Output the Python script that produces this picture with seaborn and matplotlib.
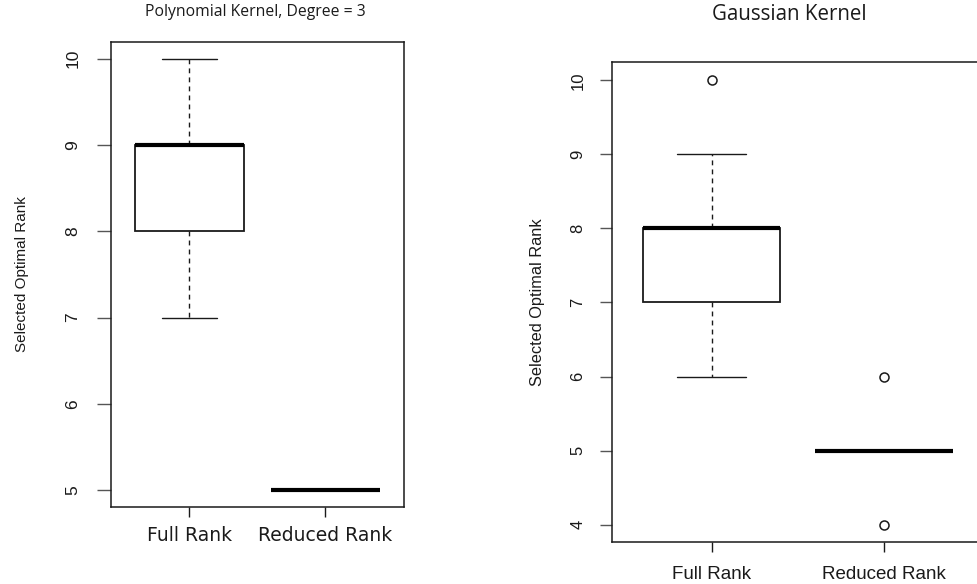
import numpy as np
import pandas as pd
import matplotlib
matplotlib.use("Agg")
import matplotlib.pyplot as plt
import seaborn as sns

# Selected optimal rank per run, for each kernel and rank-selection method
methods = ["Full Rank", "Reduced Rank"]
poly_full = [7, 8, 8, 9, 9, 9, 9, 10]
poly_reduced = [5, 5, 5, 5, 5, 5, 5, 5]
gauss_full = [6, 7, 7, 7, 8, 8, 8, 8, 8, 9, 10]
gauss_reduced = [4, 5, 5, 5, 5, 5, 5, 5, 5, 5, 6]

poly_ticks = [5, 6, 7, 8, 9, 10]
gauss_ticks = [4, 5, 6, 7, 8, 9, 10]

poly_title = "Polynomial Kernel, Degree = 3"
gauss_title = "Gaussian Kernel"
ylabel = "Selected Optimal Rank"


def long_form(full, reduced):
    return pd.DataFrame({
        "method": [methods[0]] * len(full) + [methods[1]] * len(reduced),
        "rank": list(full) + list(reduced),
    })


sns.set_style("white")
plt.rcParams["font.family"] = ["Liberation Sans", "DejaVu Sans"]

INK = "#1a1a1a"

fig = plt.figure(figsize=(9.77, 5.84), dpi=100)
ax1 = fig.add_axes([0.1133, 0.1313, 0.3002, 0.7976])
ax2 = fig.add_axes([0.6261, 0.0711, 0.3806, 0.8219])

box_kw = dict(
    x="method", y="rank", order=methods, width=0.8, whis=1.5,
    color="white", linecolor=INK, linewidth=1.2,
    boxprops=dict(edgecolor=INK, linewidth=1.3, facecolor="white"),
    whiskerprops=dict(color=INK, linewidth=1.0, linestyle=(0, (3.5, 3))),
    capprops=dict(color=INK, linewidth=1.0),
    medianprops=dict(color="black", linewidth=3.0, solid_capstyle="butt"),
    flierprops=dict(marker="o", markersize=6.5, markerfacecolor="none",
                    markeredgecolor=INK, markeredgewidth=1.1),
)

sns.boxplot(data=long_form(poly_full, poly_reduced), ax=ax1, **box_kw)
sns.boxplot(data=long_form(gauss_full, gauss_reduced), ax=ax2, **box_kw)

panels = [
    (ax1, poly_ticks, (4.8, 10.2), poly_title, 0.492, 1.0627,
     dict(family=["Open Sans"], size=11.3), 10, 12, 26.0, 11.0, 12.5, 13.5,
     ["DejaVu Sans"], 6.5),
    (ax2, gauss_ticks, (3.76, 10.24), gauss_title, 0.477, 1.099,
     dict(family=["Open Sans"], size=14.8), 8.5, 10.5, 18.5, 11.8, 12.0, 13.5,
     ["Liberation Sans"], 10),
]

for (ax, ticks, ylim, title, tx, ty, tfont, ylen, ypad, ylab_pad, ylab_size,
     ytick_size, xtick_size, xfam, xpad) in panels:
    ax.set_xlim(-0.58, 1.58)
    ax.set_ylim(*ylim)
    ax.set_yticks(ticks)
    ax.set_yticklabels([str(t) for t in ticks], rotation=90, va="center",
                       fontsize=ytick_size, color=INK)
    ax.set_xticks([0, 1])
    ax.set_xticklabels(methods, fontsize=xtick_size, color=INK,
                       family=xfam)
    ax.tick_params(axis="y", length=ylen, width=1.0, color="#555555",
                   pad=ypad, left=True)
    ax.tick_params(axis="x", length=7, width=1.0, color=INK, pad=xpad,
                   bottom=True)
    ax.set_xlabel("")
    ax.set_ylabel(ylabel, fontsize=ylab_size, color=INK, labelpad=ylab_pad)
    for s in ax.spines.values():
        s.set_visible(True)
        s.set_color(INK)
        s.set_linewidth(1.1)
    ax.text(tx, ty, title, transform=ax.transAxes, ha="center", va="center",
            color=INK, **tfont)

fig.savefig("out.png", dpi=100)
